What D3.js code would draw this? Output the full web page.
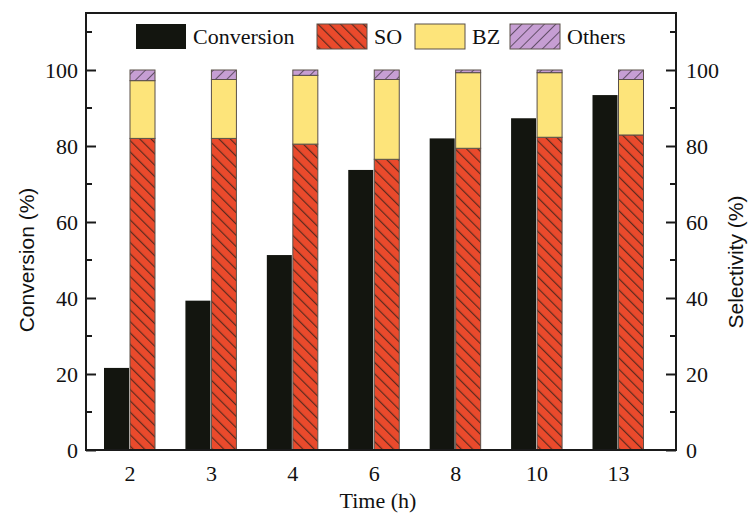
<!DOCTYPE html>
<html>
<head>
<meta charset="utf-8">
<script src="https://cdn.jsdelivr.net/npm/d3@7/dist/d3.min.js"></script>
<style>
  body { margin: 0; background: #fff; }
  .serif { font-family: "Liberation Serif", "Times New Roman", serif; fill: #111; }
  .sans { font-family: "Liberation Sans", Arial, sans-serif; fill: #111; }
</style>
</head>
<body>
<div id="chart"></div>
<script>
// data
var times = ["2", "3", "4", "6", "8", "10", "13"];
var conversion = [21.6, 39.3, 51.3, 73.7, 82.0, 87.3, 93.4];
var so = [82.0, 82.0, 80.5, 76.5, 79.4, 82.3, 82.9];
var bz = [15.2, 15.5, 18.1, 21.0, 19.9, 17.0, 14.6];
var others = [2.8, 2.5, 1.4, 2.5, 0.7, 0.7, 2.5];
var majorTicks = [0, 20, 40, 60, 80, 100];
var minorTicks = [10, 30, 50, 70, 90, 110];
var legendNames = ["Conversion", "SO", "BZ", "Others"];

var width = 749, height = 518;
var plotLeft = 86, plotRight = 676, plotTop = 13, plotBottom = 450;
var barW = 25;

var svg = d3.select("#chart").append("svg")
    .attr("width", width).attr("height", height);

// hatch patterns
var defs = svg.append("defs");
var soPat = defs.append("pattern").attr("id", "hatchSO")
    .attr("patternUnits", "userSpaceOnUse").attr("width", 8).attr("height", 8)
    .attr("patternTransform", "rotate(-45)");
soPat.append("rect").attr("width", 8).attr("height", 8).attr("fill", "#ea4a2c");
soPat.append("line").attr("x1", 0).attr("y1", 0).attr("x2", 0).attr("y2", 8)
    .attr("stroke", "#5c2a1e").attr("stroke-width", 2.4);

var otPat = defs.append("pattern").attr("id", "hatchOT")
    .attr("patternUnits", "userSpaceOnUse").attr("width", 8).attr("height", 8)
    .attr("patternTransform", "rotate(45)");
otPat.append("rect").attr("width", 8).attr("height", 8).attr("fill", "#c69ed3");
otPat.append("line").attr("x1", 0).attr("y1", 0).attr("x2", 0).attr("y2", 8)
    .attr("stroke", "#4a3a4e").attr("stroke-width", 1.6);

var fills = ["#13150f", "url(#hatchSO)", "#fde47a", "url(#hatchOT)"];

// scales
var x = d3.scalePoint().domain(times).range([129.5, 618]);
var y = d3.scaleLinear().domain([0, 115]).range([plotBottom, plotTop]);

// conversion bars
svg.append("g").selectAll("rect")
    .data(times)
    .enter().append("rect")
    .attr("x", function(d) { return x(d) - barW - 0.5; })
    .attr("width", barW)
    .attr("y", function(d, i) { return y(conversion[i]); })
    .attr("height", function(d, i) { return y(0) - y(conversion[i]); })
    .attr("fill", fills[0]);

// selectivity stacked bars
var rows = times.map(function(t, i) {
  return { t: t, so: so[i], bz: bz[i], others: others[i] };
});
var stack = d3.stack().keys(["so", "bz", "others"])(rows);

svg.append("g").selectAll("g")
    .data(stack)
    .enter().append("g")
    .attr("fill", function(d, i) { return fills[i + 1]; })
    .selectAll("rect")
    .data(function(d) { return d; })
    .enter().append("rect")
    .attr("x", function(d) { return x(d.data.t) + 0.5; })
    .attr("width", barW)
    .attr("y", function(d) { return y(d[1]); })
    .attr("height", function(d) { return y(d[0]) - y(d[1]); })
    .attr("stroke", "#5a5048").attr("stroke-width", 1);

// frame
svg.append("rect")
    .attr("x", plotLeft).attr("y", plotTop)
    .attr("width", plotRight - plotLeft).attr("height", plotBottom - plotTop)
    .attr("fill", "none").attr("stroke", "#1a1a1a").attr("stroke-width", 2);

// axes
var yLeft = svg.append("g").attr("transform", "translate(" + plotLeft + ",0)")
    .call(d3.axisLeft(y).tickValues(majorTicks).tickSizeInner(-10).tickSizeOuter(0).tickPadding(8));
var yRight = svg.append("g").attr("transform", "translate(" + plotRight + ",0)")
    .call(d3.axisRight(y).tickValues(majorTicks).tickSizeInner(-10).tickSizeOuter(0).tickPadding(10));
var xAxis = svg.append("g").attr("transform", "translate(0," + plotBottom + ")")
    .call(d3.axisBottom(x).tickSize(0).tickPadding(15));

[yLeft, yRight, xAxis].forEach(function(g) {
  g.select(".domain").remove();
  g.selectAll("line").attr("stroke", "#1a1a1a").attr("stroke-width", 2);
  g.selectAll("text").attr("class", "serif").attr("font-size", 22)
      .attr("fill", "#111").attr("font-family", null);
});

// minor ticks
svg.append("g").selectAll("line").data(minorTicks).enter().append("line")
    .attr("x1", plotLeft).attr("x2", plotLeft + 6)
    .attr("y1", function(d) { return y(d); }).attr("y2", function(d) { return y(d); })
    .attr("stroke", "#1a1a1a").attr("stroke-width", 2);
svg.append("g").selectAll("line").data(minorTicks).enter().append("line")
    .attr("x1", plotRight).attr("x2", plotRight - 6)
    .attr("y1", function(d) { return y(d); }).attr("y2", function(d) { return y(d); })
    .attr("stroke", "#1a1a1a").attr("stroke-width", 2);

// axis titles
svg.append("text").attr("class", "sans").attr("font-size", 21)
    .attr("text-anchor", "middle")
    .attr("transform", "translate(34,260) rotate(-90)")
    .text("Conversion (%)");
svg.append("text").attr("class", "sans").attr("font-size", 21)
    .attr("text-anchor", "middle")
    .attr("transform", "translate(743,262) rotate(-90)")
    .text("Selectivity (%)");
svg.append("text").attr("class", "serif").attr("font-size", 22)
    .attr("text-anchor", "middle")
    .attr("x", 378).attr("y", 508)
    .text("Time (h)");

// legend
var legendX = [136, 317, 415, 510];
var legend = svg.append("g").selectAll("g")
    .data(legendNames)
    .enter().append("g")
    .attr("transform", function(d, i) { return "translate(" + legendX[i] + ",24)"; });
legend.append("rect")
    .attr("width", 50).attr("height", 25)
    .attr("fill", function(d, i) { return fills[i]; })
    .attr("stroke", function(d, i) { return i === 0 ? "none" : "#5a5048"; })
    .attr("stroke-width", 1);
legend.append("text").attr("class", "serif").attr("font-size", 22)
    .attr("x", 57).attr("y", 20)
    .text(function(d) { return d; });
</script>
</body>
</html>
